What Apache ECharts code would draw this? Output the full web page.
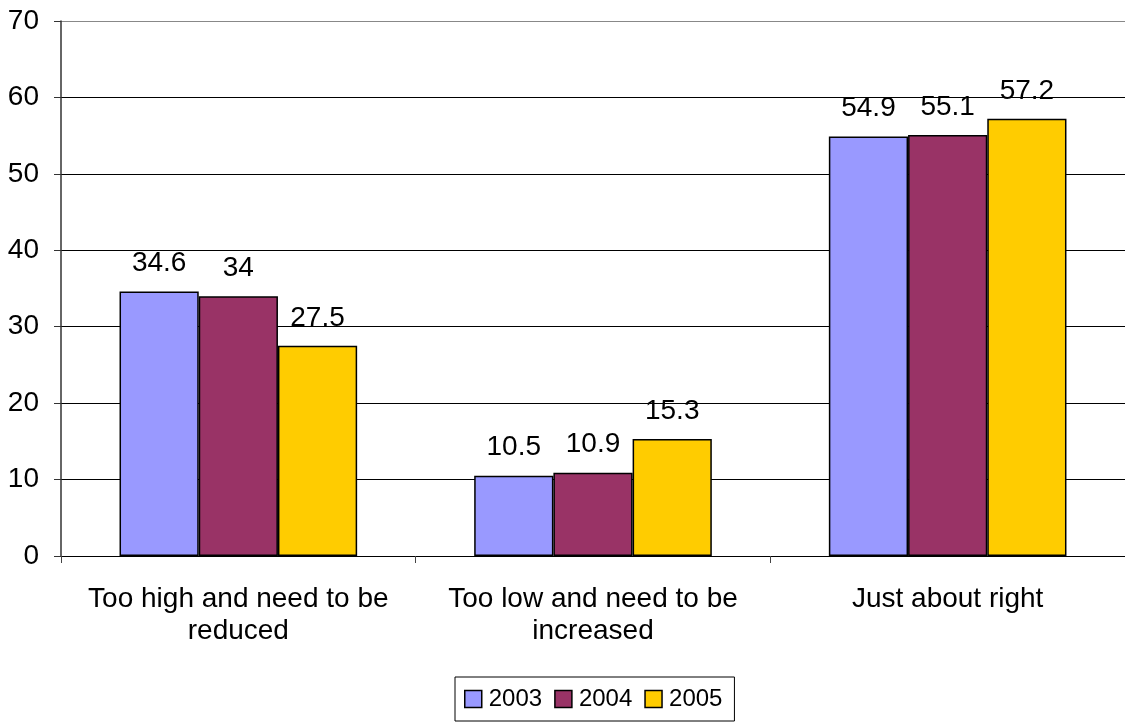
<!DOCTYPE html>
<html>
<head>
<meta charset="utf-8">
<script src="https://cdn.jsdelivr.net/npm/echarts@6/dist/echarts.min.js"></script>
<style>html,body{margin:0;padding:0;background:#fff;overflow:hidden}#c{width:1125px;height:724px}</style>
</head>
<body>
<div id="c"></div>
<script>
var categories = ["Too high and need to be\nreduced", "Too low and need to be\nincreased", "Just about right"];
var seriesNames = ["2003", "2004", "2005"];
var values2003 = [34.6, 10.5, 54.9];
var values2004 = [34, 10.9, 55.1];
var values2005 = [27.5, 15.3, 57.2];
var colors = ["#9999FF", "#993366", "#FFCC00"];

var chart = echarts.init(document.getElementById('c'), null, {renderer: 'canvas'});
var font = 'Liberation Sans, Arial, sans-serif';
function mk(name, data, color) {
  return {
    name: name, type: 'bar', data: data, barGap: '0%', barCategoryGap: '33%',
    itemStyle: {color: color, borderColor: '#000', borderWidth: 1.5},
    label: {show: true, position: 'top', distance: 14, color: '#000', fontSize: 28, fontFamily: font},
    emphasis: {disabled: true}
  };
}
chart.setOption({
  animation: false,
  textStyle: {fontFamily: font},
  grid: {left: 61, width: 1071, top: 21, bottom: 168, containLabel: false},
  legend: {
    data: seriesNames, left: 455, top: 677, itemWidth: 17, itemHeight: 17, itemGap: 12,
    borderColor: '#000', borderWidth: 1, padding: [10, 12, 10, 9],
    textStyle: {fontSize: 24, color: '#000', fontFamily: font, padding: [0, 0, 0, 2]},
    itemStyle: {borderColor: '#000', borderWidth: 1.5},
    icon: 'rect'
  },
  xAxis: {
    type: 'category', data: categories,
    axisLine: {lineStyle: {color: '#000', width: 1}},
    axisTick: {show: true, length: 7, lineStyle: {color: '#444'}},
    axisLabel: {fontSize: 28, color: '#000', lineHeight: 32, margin: 27, fontFamily: font, interval: 0}
  },
  yAxis: {
    type: 'value', min: 0, max: 70, interval: 10,
    axisLine: {show: true, lineStyle: {color: '#333', width: 1.5}},
    axisTick: {show: true, length: 7, lineStyle: {color: '#333'}},
    axisLabel: {fontSize: 28, color: '#000', margin: 22, fontFamily: font},
    splitLine: {show: true, lineStyle: {color: ['#000', '#000', '#000', '#000', '#000', '#000', '#000', '#888'], width: 1}}
  },
  series: [mk(seriesNames[0], values2003, colors[0]), mk(seriesNames[1], values2004, colors[1]), mk(seriesNames[2], values2005, colors[2])]
});
</script>
</body>
</html>
